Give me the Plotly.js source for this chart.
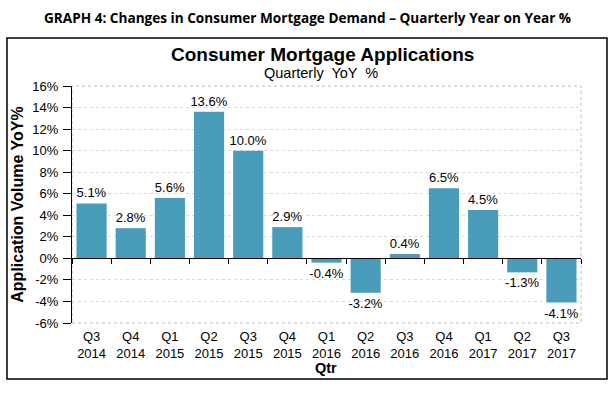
<!DOCTYPE html>
<html><head><meta charset="utf-8">
<script src="https://cdn.plot.ly/plotly-3.0.1.min.js"></script>
<style>html,body{margin:0;padding:0;background:#fff}</style>
</head><body><div id="chart" style="width:615px;height:394px"></div>
<script>
var quarters = ["Q3<br>2014","Q4<br>2014","Q1<br>2015","Q2<br>2015","Q3<br>2015","Q4<br>2015","Q1<br>2016","Q2<br>2016","Q3<br>2016","Q4<br>2016","Q1<br>2017","Q2<br>2017","Q3<br>2017"];
var yoy = [5.1, 2.8, 5.6, 13.6, 10.0, 2.9, -0.4, -3.2, 0.4, 6.5, 4.5, -1.3, -4.1];
var yTicks = [-6,-4,-2,0,2,4,6,8,10,12,14,16];
var yTickText = yTicks.map(function(v){return v+"%";});

var W=615,H=394,L=72,R=581,T=86,B=323;
function px(x){return (x-L)/(R-L);}
function py(y){return (B-y)/(B-T);}

var idx = quarters.map(function(_,i){return i;});
var bounds = []; for (var i=0;i<=quarters.length;i++) bounds.push(i-0.5);

var data = [{
  type:'bar', x: idx, y: yoy,
  marker:{color:'#4a9dba'},
  text: yoy.map(function(v){return v.toFixed(1)+"%";}),
  textposition:'outside', cliponaxis:false, constraintext:'none',
  textfont:{family:'Arial, Liberation Sans, sans-serif', size:13, color:'#000'},
  hoverinfo:'none'
},{
  type:'scatter', x:[0], y:[0], xaxis:'x2', yaxis:'y', mode:'markers',
  marker:{opacity:0}, hoverinfo:'none', showlegend:false
}];

var layout = {
  width:W, height:H, showlegend:false,
  margin:{l:L, r:W-R, t:T, b:H-B},
  paper_bgcolor:'#fff', plot_bgcolor:'#fff',
  bargap:0.23,
  font:{family:'Arial, Liberation Sans, sans-serif', color:'#000'},
  xaxis:{
    range:[-0.5, quarters.length-0.5], tickvals: idx, ticktext: quarters,
    showline:false, showgrid:false, zeroline:false, ticks:'',
    tickfont:{size:13, color:'#000'}, ticklabelstandoff:4
  },
  xaxis2:{
    overlaying:'x', anchor:'free', position: 6/22, side:'bottom',
    range:[-0.5, quarters.length-0.5], tickvals: bounds,
    showticklabels:false, ticks:'outside', ticklen:5, tickcolor:'#000',
    showline:true, linecolor:'#000', linewidth:1, showgrid:false, zeroline:false
  },
  yaxis:{
    range:[-6,16], tickvals:yTicks, ticktext:yTickText,
    showline:true, linecolor:'#000', linewidth:1,
    ticks:'outside', ticklen:8, tickcolor:'#000',
    showgrid:true, gridcolor:'#d9d9d9', griddash:'dot', zeroline:false,
    tickfont:{size:13, color:'#000'}, ticklabelstandoff:2,
    title:{text:'<b>Application Volume YoY%</b>', font:{size:16, color:'#000'}, standoff:4}
  },
  shapes:[
    {type:'rect', xref:'paper', yref:'paper', x0:0, x1:1, y0:0, y1:1,
     line:{color:'#bfbfbf', width:1, dash:'dot'}, layer:'below'},
    {type:'rect', xref:'paper', yref:'paper', x0:px(7), x1:px(607), y0:py(379), y1:py(38),
     line:{color:'#000', width:1.5}}
  ],
  annotations:[
    {xref:'paper', yref:'paper', x:px(307), y:py(18), text:'<b>GRAPH 4: Changes in Consumer Mortgage Demand – Quarterly Year on Year %</b>',
     showarrow:false, font:{family:'Open Sans, Liberation Sans, sans-serif', size:13.6, color:'#000'}, xanchor:'center', yanchor:'middle'},
    {xref:'paper', yref:'paper', x:px(322), y:py(54), text:'<b>Consumer Mortgage Applications</b>',
     showarrow:false, font:{family:'Arial, Liberation Sans, sans-serif', size:19, color:'#000'}, xanchor:'center', yanchor:'middle'},
    {xref:'paper', yref:'paper', x:px(321), y:py(73), text:'Quarterly  YoY  %',
     showarrow:false, font:{family:'Arial, Liberation Sans, sans-serif', size:14.5, color:'#000'}, xanchor:'center', yanchor:'middle'},
    {xref:'paper', yref:'paper', x:px(326), y:py(368), text:'<b>Qtr</b>',
     showarrow:false, font:{family:'Arial, Liberation Sans, sans-serif', size:14.5, color:'#000'}, xanchor:'center', yanchor:'middle'}
  ]
};
Plotly.newPlot('chart', data, layout, {displayModeBar:false, staticPlot:true});
</script></body></html>
